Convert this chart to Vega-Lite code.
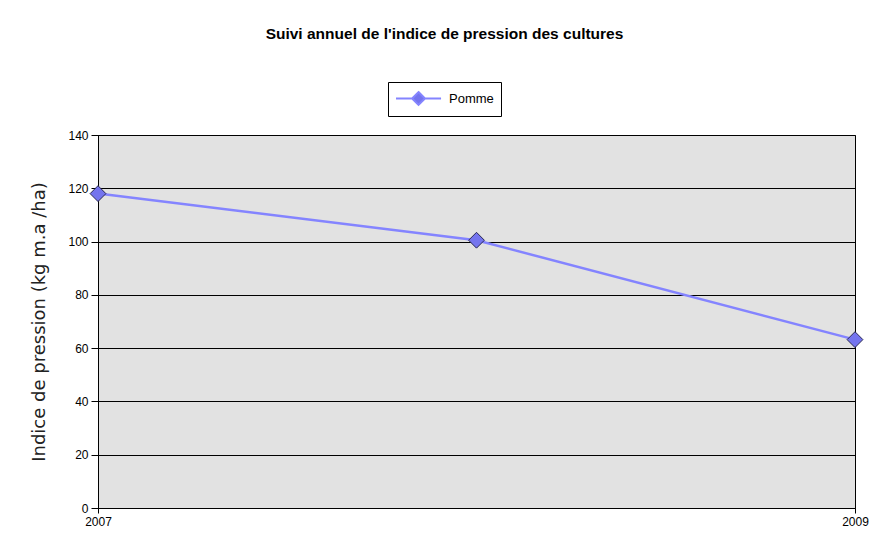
{
  "$schema": "https://vega.github.io/schema/vega-lite/v6.json",
  "autosize": {"type": "none"},
  "width": 757,
  "height": 373,
  "padding": {"left": 98, "top": 135, "right": 23, "bottom": 33},
  "background": "white",
  "title": {
    "text": "Suivi annuel de l'indice de pression des cultures",
    "font": "Liberation Sans",
    "fontSize": 15.5,
    "fontWeight": "bold",
    "color": "#000000",
    "anchor": "middle",
    "frame": "group",
    "dx": -32,
    "offset": 39
  },
  "config": {
    "view": {"fill": "#e2e2e2", "stroke": "#000000", "strokeWidth": 1},
    "font": "Liberation Sans"
  },
  "data": {
    "values": [
      {"annee": 2007, "indice": 118, "culture": "Pomme"},
      {"annee": 2008, "indice": 100.5, "culture": "Pomme"},
      {"annee": 2009, "indice": 63.2, "culture": "Pomme"}
    ]
  },
  "encoding": {
    "x": {
      "field": "annee",
      "type": "quantitative",
      "scale": {"domain": [2007, 2009], "nice": false, "zero": false},
      "axis": {
        "title": null,
        "values": [2007, 2008, 2009],
        "format": "d",
        "grid": false,
        "domainColor": "#000000",
        "tickColor": "#000000",
        "tickSize": 5,
        "labelPadding": 3,
        "labelFontSize": 12,
        "labelColor": "#000000",
        "labelFont": "Liberation Sans",
        "labelFlush": false
      }
    },
    "y": {
      "field": "indice",
      "type": "quantitative",
      "scale": {"domain": [0, 140], "nice": false},
      "axis": {
        "title": "Indice de pression (kg m.a /ha)",
        "titleFontSize": 18,
        "titleFontWeight": "normal",
        "titleColor": "#222222",
        "titleFont": "DejaVu Sans",
        "titlePadding": 19,
        "values": [0, 20, 40, 60, 80, 100, 120, 140],
        "grid": true,
        "gridColor": "#000000",
        "gridOpacity": 1,
        "gridWidth": 1,
        "domainColor": "#000000",
        "tickColor": "#000000",
        "tickSize": 7,
        "labelPadding": 3,
        "labelFontSize": 12,
        "labelColor": "#000000",
        "labelFont": "Liberation Sans"
      }
    }
  },
  "layer": [
    {
      "mark": {"type": "line", "strokeWidth": 2.5},
      "encoding": {
        "color": {
          "field": "culture",
          "type": "nominal",
          "scale": {"range": ["#8484ff"]},
          "legend": {
            "title": null,
            "orient": "none",
            "legendX": 290,
            "legendY": -53,
            "strokeColor": "#000000",
            "fillColor": "#ffffff",
            "padding": 7,
            "symbolType": "M-1,0L0.9,0M2.4,0L4.3,0M1.65,-0.76L2.41,0L1.65,0.76L0.89,0Z",
            "symbolSize": 289,
            "symbolStrokeWidth": 2,
            "labelFontSize": 13,
            "labelFont": "Liberation Sans",
            "labelColor": "#000000",
            "labelOffset": 35,
            "encode": {
              "symbols": {
                "update": {
                  "fill": {"value": "#7474ee"},
                  "stroke": {"value": "#8484ff"}
                }
              }
            }
          }
        }
      }
    },
    {
      "mark": {
        "type": "point",
        "shape": "diamond",
        "filled": true,
        "size": 250,
        "fill": "#7474ee",
        "stroke": "#2a2a55",
        "strokeWidth": 1,
        "opacity": 1
      }
    }
  ]
}
